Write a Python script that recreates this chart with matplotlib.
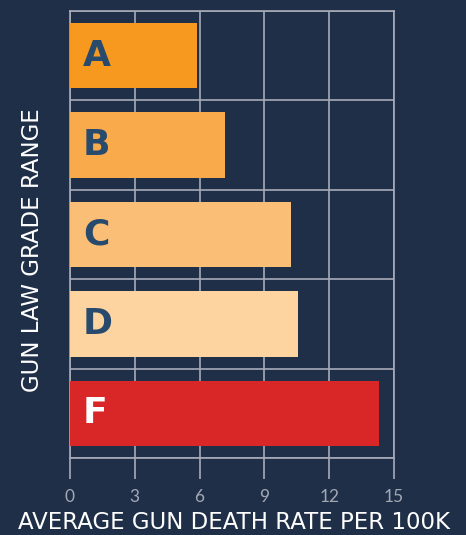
import matplotlib.pyplot as plt

# grade categories, top to bottom
grades = ['A', 'B', 'C', 'D', 'F']
# average gun death rate per 100k
rates = [5.88, 7.18, 10.23, 10.54, 14.31]
bar_colors = ['#f7991e', '#f9ab4c', '#fbbe76', '#fdd39f', '#d92728']
label_colors = ['#284a6d', '#284a6d', '#284a6d', '#284a6d', '#ffffff']
xticks = [0, 3, 6, 9, 12, 15]

bg = '#1f2f48'
grid_c = '#a7abb8'

fig = plt.figure(figsize=(4.66, 5.35), dpi=100, facecolor=bg)
ax = fig.add_axes([0.1502, 0.1439, 0.6953, 0.8355], facecolor=bg)

ypos = list(range(len(grades)))
ax.barh(ypos, rates, height=0.73, color=bar_colors, zorder=3)

for y, g, c in zip(ypos, grades, label_colors):
    ax.text(0.6, y, g, color=c, fontsize=26, fontweight='bold',
            family='DejaVu Sans', va='center', ha='left', zorder=4)

ax.set_xlim(0, 15)
ax.set_ylim(len(grades) - 0.5, -0.5)
ax.set_xticks(xticks)
ax.set_xticklabels([str(t) for t in xticks], family='Lato', color='#a3a8b5',
                   fontsize=12.5)
ax.set_yticks([i - 0.5 for i in range(len(grades) + 1)])
ax.set_yticklabels([])
ax.tick_params(axis='y', length=0)
ax.tick_params(axis='x', length=15, width=1.2, color=grid_c, pad=7)

ax.grid(True, color=grid_c, linewidth=1.2, zorder=0)
for s in ax.spines.values():
    s.set_color(grid_c)
    s.set_linewidth(1.2)

fig.text(0.502, 0.012, 'AVERAGE GUN DEATH RATE PER 100K', color='white',
         fontsize=16.5, family='DejaVu Sans', ha='center', va='baseline')
fig.text(0.0687, 0.532, 'GUN LAW GRADE RANGE', color='white', rotation=90,
         fontsize=16.5, family='DejaVu Sans', ha='center', va='center')

fig.savefig('out.png', dpi=100, facecolor=bg)
